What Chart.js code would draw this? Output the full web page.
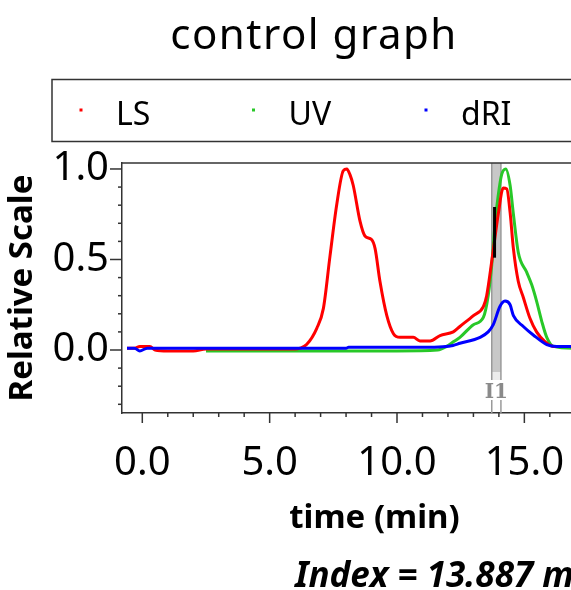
<!DOCTYPE html>
<html>
<head>
<meta charset="utf-8">
<script src="https://cdn.jsdelivr.net/npm/chart.js@4.4.0/dist/chart.umd.min.js"></script>
<style>
  body { margin: 0; background: #fff; overflow: hidden; }
  #wrap { width: 630px; height: 590px; }
</style>
</head>
<body>
<div id="wrap"><canvas id="myChart"></canvas></div>
<script>
//Series names and colours
const seriesNames = ['LS', 'UV', 'dRI'];
const seriesColors = ['rgb(255,0,0)', 'rgb(40,200,40)', 'rgb(0,0,255)'];

//LS trace (time in min, relative scale)
const lsTime  = [-0.6, -0.3, -0.1, 0.1, 0.3, 0.5, 1.0, 2.0, 2.5, 4.0, 6.0, 6.2, 6.45, 6.85, 7.11, 7.37, 7.63, 7.89, 8.03, 8.15, 8.28, 8.55, 8.74, 9.0, 9.14, 9.33, 9.6, 9.86, 10.12, 10.64, 10.9, 11.3, 11.69, 12.21, 12.47, 13.0, 13.39, 13.52, 13.72, 13.98, 14.17, 14.31, 14.44, 14.57, 14.76, 14.96, 15.22, 15.48, 15.81, 16.14, 16.9, 18.0, 19.2];
const lsValue = [0.01, 0.01, 0.02, 0.02, 0.02, 0.0, -0.005, -0.005, 0.005, 0.005, 0.005, 0.01, 0.03, 0.12, 0.23, 0.52, 0.80, 0.99, 1.0, 0.97, 0.91, 0.71, 0.63, 0.61, 0.56, 0.38, 0.19, 0.09, 0.07, 0.07, 0.05, 0.05, 0.08, 0.10, 0.13, 0.19, 0.24, 0.30, 0.49, 0.755, 0.895, 0.89, 0.76, 0.56, 0.38, 0.29, 0.175, 0.10, 0.046, 0.02, 0.02, 0.015, 0.015];

//UV trace
const uvTime  = [2.5, 5.0, 8.0, 10.0, 11.6, 11.95, 12.21, 12.47, 13.0, 13.39, 13.58, 13.72, 13.85, 13.98, 14.11, 14.27, 14.44, 14.57, 14.76, 15.09, 15.29, 15.48, 15.68, 15.88, 16.14, 16.9, 18.0, 19.2];
const uvValue = [-0.005, -0.005, -0.005, -0.005, 0.0, 0.02, 0.045, 0.07, 0.14, 0.18, 0.30, 0.47, 0.70, 0.86, 0.97, 1.0, 0.91, 0.75, 0.54, 0.43, 0.36, 0.27, 0.16, 0.07, 0.02, 0.01, 0.01, 0.01];

//dRI trace
const driTime  = [-0.6, -0.3, -0.1, 0.2, 1.0, 4.0, 8.0, 8.1, 11.0, 11.8, 12.2, 12.47, 13.26, 13.58, 13.78, 14.04, 14.24, 14.44, 14.57, 14.96, 15.35, 15.88, 16.27, 16.9, 18.0, 19.2];
const driValue = [0.01, 0.01, -0.005, 0.01, 0.01, 0.01, 0.01, 0.015, 0.015, 0.018, 0.025, 0.037, 0.07, 0.10, 0.14, 0.24, 0.27, 0.25, 0.19, 0.13, 0.083, 0.03, 0.02, 0.02, 0.02, 0.02];

//Axis ranges and tick labels
const xRange = [-0.797, 19.03];
const yRange = [-0.348, 1.033];
const xTickLabels = ['0.0', '5.0', '10.0', '15.0'];
const yTickLabels = ['0.0', '0.5', '1.0'];

//Integration band, index marker
const bandTime = [13.72, 14.08];
const markerTime = 13.83;
const markerRange = [0.51, 0.79];
const indexText = 'Index = 13.887 min';

Chart.defaults.font.family = "'Noto Sans', sans-serif";
Chart.defaults.color = '#000';

function toPoints(t, v) {
    return t.map((x, i) => ({ x: x, y: v[i] }));
}

const traces = [[lsTime, lsValue], [uvTime, uvValue], [driTime, driValue]];
const drawOrder = [2, 3, 1];

//Extra drawing: band, marker, ticks, title, legend, footer text
const decorations = {
    id: 'decorations',
    beforeDatasetsDraw(chart) {
        const ctx = chart.ctx;
        const a = chart.chartArea;
        const xs = chart.scales.x;
        const x0 = xs.getPixelForValue(bandTime[0]);
        const x1 = xs.getPixelForValue(bandTime[1]);
        ctx.save();
        ctx.fillStyle = '#c8c8c8';
        ctx.fillRect(x0, a.top, x1 - x0, 372 - a.top);
        ctx.fillStyle = '#ececec';
        ctx.fillRect(x0, 372, x1 - x0, 8);
        ctx.strokeStyle = '#9a9a9a';
        ctx.lineWidth = 1.5;
        [x0, x1].forEach(x => {
            ctx.beginPath();
            ctx.moveTo(x, a.top);
            ctx.lineTo(x, 380);
            ctx.moveTo(x, 400);
            ctx.lineTo(x, a.bottom);
            ctx.stroke();
        });
        ctx.fillStyle = '#8a8a8a';
        ctx.font = 'bold 20px "DejaVu Serif", serif';
        ctx.textAlign = 'center';
        ctx.textBaseline = 'alphabetic';
        ctx.fillText('I1', (x0 + x1) / 2, 398);
        //top frame line
        ctx.strokeStyle = '#333';
        ctx.lineWidth = 1.5;
        ctx.beginPath();
        ctx.moveTo(a.left, a.top);
        ctx.lineTo(a.right, a.top);
        ctx.stroke();
        ctx.restore();
    },
    afterDatasetsDraw(chart) {
        const ctx = chart.ctx;
        const xs = chart.scales.x, ys = chart.scales.y;
        ctx.save();
        ctx.strokeStyle = '#000';
        ctx.lineWidth = 3;
        const mx = xs.getPixelForValue(markerTime);
        ctx.beginPath();
        ctx.moveTo(mx, ys.getPixelForValue(markerRange[0]));
        ctx.lineTo(mx, ys.getPixelForValue(markerRange[1]));
        ctx.stroke();
        ctx.restore();
    },
    afterDraw(chart) {
        const ctx = chart.ctx;
        const a = chart.chartArea;
        const xs = chart.scales.x, ys = chart.scales.y;
        ctx.save();
        ctx.strokeStyle = '#333';
        ctx.lineWidth = 1.5;

        //x tick marks
        xs.ticks.forEach(t => {
            const x = xs.getPixelForValue(t.value);
            const major = t.label !== '';
            ctx.beginPath();
            ctx.moveTo(x, a.bottom);
            ctx.lineTo(x, a.bottom + (major ? 10 : 4));
            ctx.stroke();
        });
        //y tick marks
        ys.ticks.forEach(t => {
            const y = ys.getPixelForValue(t.value);
            const major = t.label !== '';
            ctx.beginPath();
            ctx.moveTo(a.left, y);
            ctx.lineTo(a.left - (major ? 12 : 4), y);
            ctx.stroke();
        });

        //title
        ctx.fillStyle = '#000';
        ctx.font = '42px "Noto Sans", sans-serif';
        ctx.letterSpacing = '1.5px';
        ctx.textAlign = 'center';
        ctx.textBaseline = 'alphabetic';
        ctx.fillText('control graph', 314, 49);
        ctx.letterSpacing = '0px';

        //legend box
        ctx.strokeStyle = '#333';
        ctx.lineWidth = 1.5;
        ctx.strokeRect(52, 79.5, 528, 62);
        ctx.font = '32px "Noto Sans", sans-serif';
        ctx.textAlign = 'left';
        chart.data.datasets.forEach((ds, i) => {
            const lx = 81 + i * 172.5;
            ctx.fillStyle = ds.borderColor;
            ctx.fillRect(lx - 1.5, 108.5, 3, 3);
            ctx.fillStyle = '#000';
            ctx.fillText(ds.label, lx + 35, 125);
        });

        //index text
        ctx.font = 'italic bold 35px "Noto Sans", sans-serif';
        ctx.fillText(indexText, 295, 587);
        ctx.restore();
    }
};

const ctx = document.getElementById('myChart').getContext('2d');

const myChart = new Chart(ctx, {
    type: 'line',
    data: {
        datasets: seriesNames.map((name, i) => ({
            label: name,
            data: toPoints(traces[i][0], traces[i][1]),
            borderColor: seriesColors[i],
            backgroundColor: seriesColors[i],
            borderWidth: 3,
            pointRadius: 0,
            cubicInterpolationMode: 'monotone',
            order: drawOrder[i]
        }))
    },
    options: {
        responsive: true,
        maintainAspectRatio: false,
        animation: false,
        layout: { padding: { top: 163, left: 0, right: 3, bottom: 0 } },
        plugins: {
            legend: { display: false },
            title: { display: false },
            tooltip: { enabled: false }
        },
        scales: {
            x: {
                type: 'linear',
                min: xRange[0],
                max: xRange[1],
                grid: { drawOnChartArea: false, drawTicks: false },
                border: { color: '#333', width: 1.5 },
                ticks: {
                    stepSize: 1,
                    includeBounds: false,
                    autoSkip: false,
                    maxRotation: 0,
                    padding: 27,
                    font: { size: 40 },
                    callback: v => {
                        const s = Number(v).toFixed(1);
                        return xTickLabels.includes(s) ? s : '';
                    }
                },
                title: {
                    display: true,
                    text: 'time (min)',
                    font: { size: 33, weight: 'bold' },
                    padding: { top: 0, bottom: 52 }
                },
                afterFit: scale => {
                    scale.height = 177;
                    scale.paddingLeft = 0;
                    scale.paddingRight = 0;
                }
            },
            y: {
                min: yRange[0],
                max: yRange[1],
                grid: { drawOnChartArea: false, drawTicks: false },
                border: { color: '#333', width: 1.5 },
                ticks: {
                    stepSize: 0.1,
                    includeBounds: false,
                    autoSkip: false,
                    padding: 13,
                    font: { size: 40 },
                    callback: v => {
                        const s = Number(v).toFixed(1);
                        return yTickLabels.includes(s) ? s : '';
                    }
                },
                title: {
                    display: true,
                    text: 'Relative Scale',
                    font: { size: 33, weight: 'bold' },
                    padding: { top: 3, bottom: 0 }
                },
                afterFit: scale => {
                    scale.width = 122;
                    scale.paddingTop = 0;
                    scale.paddingBottom = 0;
                }
            }
        }
    },
    plugins: [decorations]
});
</script>
</body>
</html>
